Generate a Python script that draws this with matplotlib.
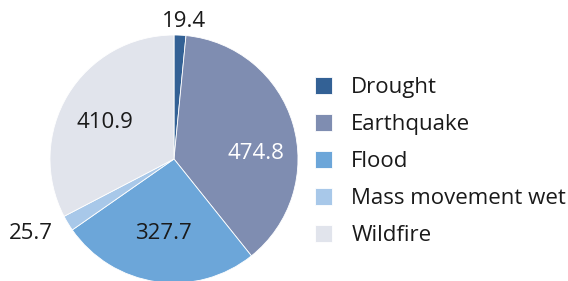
import matplotlib
matplotlib.use("Agg")
import matplotlib.pyplot as plt
import numpy as np

plt.rcParams['font.family'] = ['Open Sans', 'DejaVu Sans']

categories = ["Drought", "Earthquake", "Flood", "Mass movement wet", "Wildfire"]
values = [19.4, 474.8, 327.7, 25.7, 410.9]
colors = ["#336195", "#7f8db1", "#6ca6d9", "#a8c8e9", "#e1e4ec"]
label_colors = ["#1a1a1a", "#ffffff", "#1a1a1a", "#1a1a1a", "#1a1a1a"]

fig = plt.figure(figsize=(5.68, 2.81), dpi=100)
ax = fig.add_axes([50/568, -2/281, 248/568, 248/281])
wedges, _ = ax.pie(values, colors=colors, startangle=90, counterclock=False,
                   wedgeprops=dict(linewidth=0.6, edgecolor="white"))
ax.set_xlim(-1, 1); ax.set_ylim(-1, 1)
ax.set_aspect('equal')

# label layout (radial distance, angular shift in degrees) per wedge
label_layout = [(1.115, -1.5), (0.665, -12.5), (0.61, 0.5), (1.3, -3.5), (0.63, 3.0)]
for w, v, c, (dist, shift) in zip(wedges, values, label_colors, label_layout):
    ang = np.deg2rad((w.theta1 + w.theta2) / 2 + shift)
    ax.text(dist*np.cos(ang), dist*np.sin(ang), f"{v:.1f}", ha='center', va='center',
            fontsize=16, color=c)

fig.legend(wedges, categories, loc='upper left', bbox_to_anchor=(315/568, 1-77/281),
           frameon=False, fontsize=16, handlelength=0.78, handleheight=0.78,
           handletextpad=0.85, labelspacing=0.72, borderaxespad=0, borderpad=0,
           labelcolor="#1a1a1a")
fig.savefig("out.png", dpi=100)
